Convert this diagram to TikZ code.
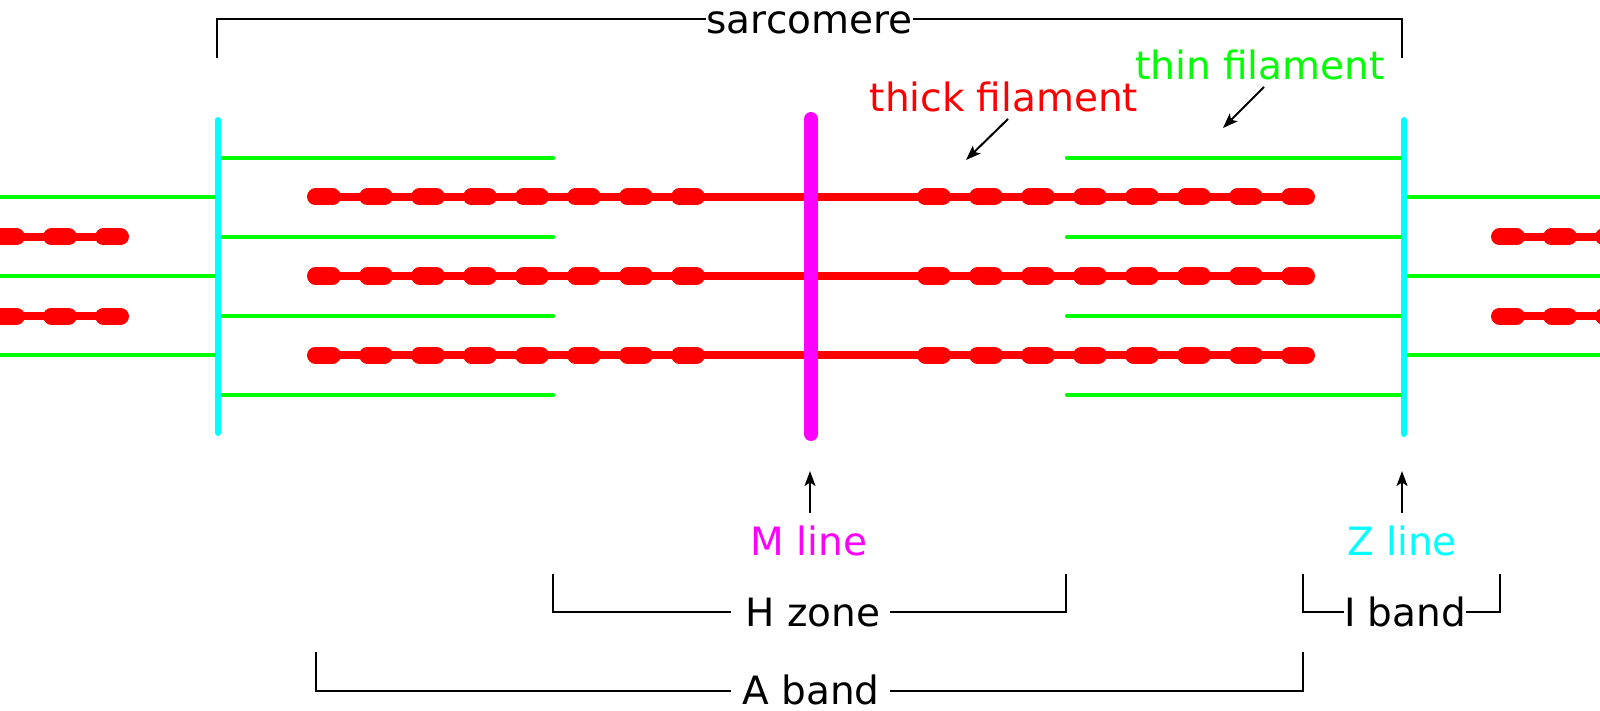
\documentclass[tikz,border=0pt]{standalone}
\usepackage{fontspec}
\setmainfont{DejaVu Sans}
\usetikzlibrary{arrows.meta}
\definecolor{thinc}{RGB}{0,255,0}
\definecolor{thickc}{RGB}{255,0,0}
\definecolor{zc}{RGB}{0,255,255}
\definecolor{mc}{RGB}{255,0,255}
\begin{document}
\begin{tikzpicture}[x=1pt,y=-1pt,
  lbl/.style={inner sep=0pt, anchor=base, text depth=0pt, font=\fontsize{39}{47}\selectfont},
  thinf/.style={draw=thinc, line width=4.3pt, line cap=round},
  thinfo/.style={draw=thinc, line width=4.3pt},
  rod/.style={draw=thickc, line width=8pt},
  bead/.style={draw=thickc, line width=17pt, line cap=round},
  zlinestyle/.style={draw=zc, line width=6pt, line cap=round},
  mlinestyle/.style={draw=mc, line width=14pt, line cap=round},
  brk/.style={draw=black, line width=2pt},
  pointer/.style={draw=black, line width=2pt, -{Stealth[length=15pt,width=11pt,inset=3.5pt]}},
]
\useasboundingbox (0,0) rectangle (1600,711);
% thin filaments inside the sarcomere
\foreach \y in {158,237,316,395} {
  \draw[thinf] (220,\y) -- (553,\y);
  \draw[thinf] (1067,\y) -- (1402,\y);
}
% thin filaments outside
\foreach \y in {197,276,355} {
  \draw[thinfo] (0,\y) -- (218,\y);
  \draw[thinfo] (1404,\y) -- (1600,\y);
}
% thick filaments
\foreach \y in {197,276,355} {
  \draw[rod] (324,\y) -- (1298,\y);
  \foreach \x in {324,376,...,688} \draw[bead] (\x-8.5,\y) -- (\x+8.5,\y);
  \foreach \x in {934,986,...,1298} \draw[bead] (\x-8.5,\y) -- (\x+8.5,\y);
}
% thick filaments of the neighbouring sarcomeres
\foreach \y in {237,316} {
  \draw[rod] (0,\y) -- (112,\y);
  \foreach \x in {8,60,112} \draw[bead] (\x-8.5,\y) -- (\x+8.5,\y);
  \draw[rod] (1508,\y) -- (1600,\y);
  \foreach \x in {1508,1560,1612} \draw[bead] (\x-8.5,\y) -- (\x+8.5,\y);
}
% Z lines and M line
\draw[zlinestyle] (218,120) -- (218,433);
\draw[zlinestyle] (1404,120) -- (1404,434);
\draw[mlinestyle] (811,119) -- (811,434);

% labels
\node[lbl] (sarc) at (809.5,33.3) {sarcomere};
\node[lbl, text=thickc] (thk) at (1004,112) {thick filament};
\node[lbl, text=thinc] (thn) at (1260,80) {thin filament};
\node[lbl, text=mc] (ml) at (809,555) {M line};
\node[lbl, text=zc] (zl) at (1402,555) {Z line};
\node[lbl] (hz) at (813,626) {H zone};
\node[lbl] (ib) at (1405,626) {I band};
\node[lbl] (ab) at (811,704) {A band};

% sarcomere bracket
\coordinate (sy) at (0,19.5);
\coordinate (sL) at (217,58);
\coordinate (sR) at (1402,58);
\draw[brk] (sL) |- (sarc.west |- sy);
\draw[brk] (sR) |- (sarc.east |- sy);

% pointers
\coordinate (thkT) at (1008,119); \coordinate (thkH) at (966,160);
\coordinate (thnT) at (1264,87);  \coordinate (thnH) at (1223,128);
\coordinate (mlT) at (810,513);   \coordinate (mlH) at (810,471);
\coordinate (zlT) at (1402,513);  \coordinate (zlH) at (1402,471);
\draw[pointer] (thkT) -- (thkH);
\draw[pointer] (thnT) -- (thnH);
\draw[pointer] (mlT) -- (mlH);
\draw[pointer] (zlT) -- (zlH);

% H zone bracket
\coordinate (hzL) at (553,573.5); \coordinate (hzR) at (1066,573.5);
\coordinate (hzGL) at (731,612);  \coordinate (hzGR) at (890,612);
\draw[brk] (hzL) |- (hzGL);
\draw[brk] (hzR) |- (hzGR);
% I band bracket
\coordinate (ibL) at (1303,573.5); \coordinate (ibR) at (1500,573.5);
\draw[brk] (ibL) |- (ib.west |- hzGL);
\draw[brk] (ibR) |- (ib.east |- hzGL);
% A band bracket
\coordinate (abL) at (316,652); \coordinate (abR) at (1303,652);
\coordinate (abGL) at (731,691); \coordinate (abGR) at (890,691);
\draw[brk] (abL) |- (abGL);
\draw[brk] (abR) |- (abGR);
\end{tikzpicture}
\end{document}
